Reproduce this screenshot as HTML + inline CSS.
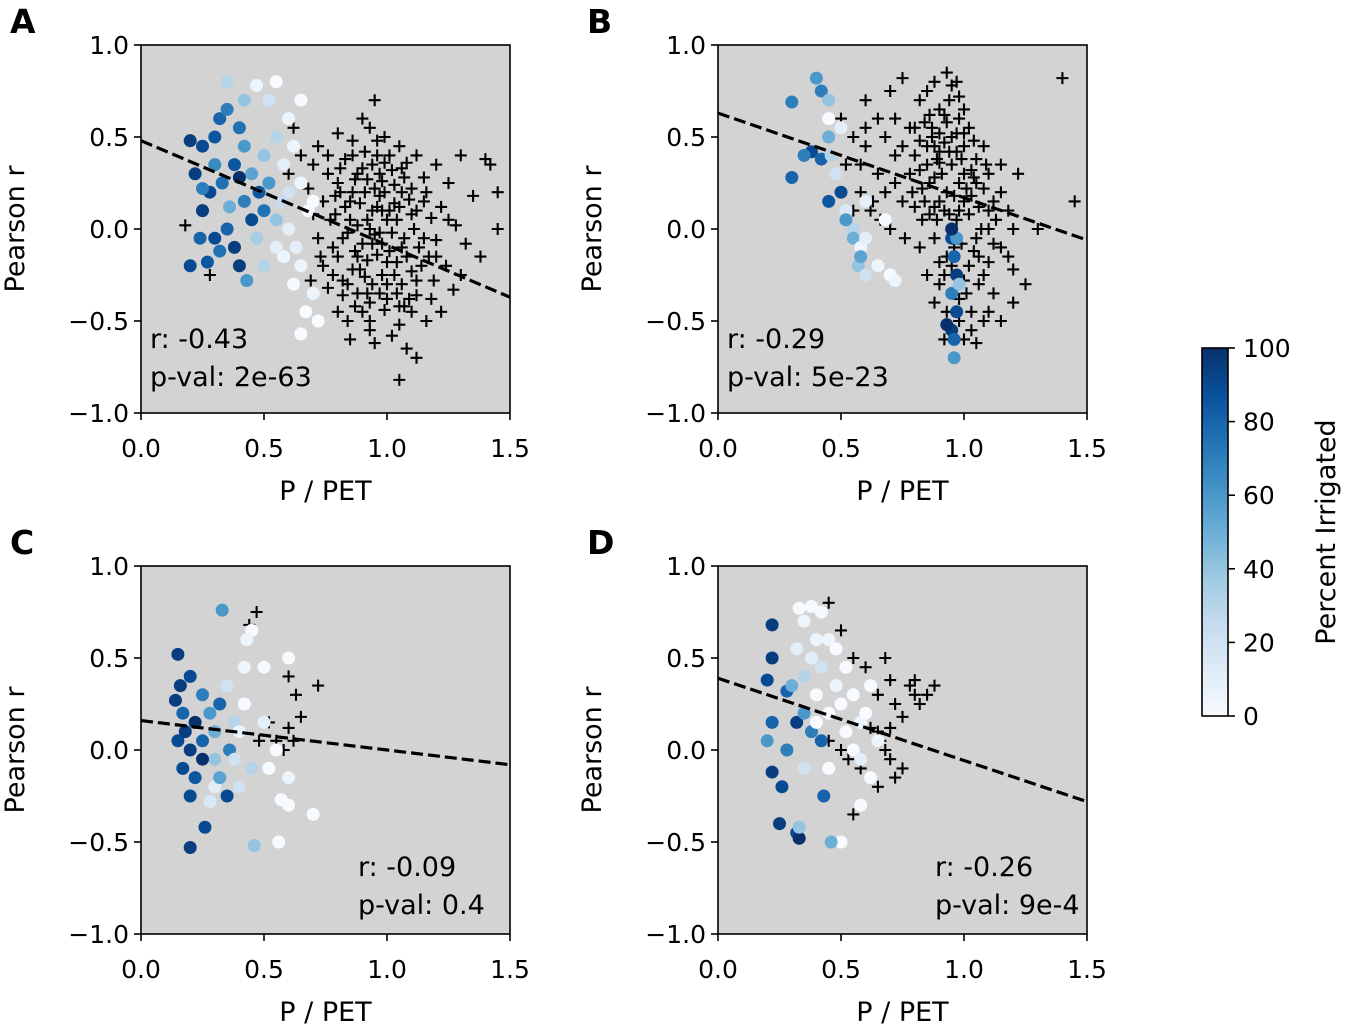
<!DOCTYPE html>
<html><head><meta charset="utf-8">
<style>
body{margin:0;background:#fff;}
svg{display:block;font-family:"DejaVu Sans","Liberation Sans",sans-serif;}
</style></head>
<body>
<svg id="fig" width="1345" height="1027" viewBox="0 0 1345 1027">
<defs>
<linearGradient id="blues" x1="0" y1="1" x2="0" y2="0">
<stop offset="0" stop-color="#f7fbff"/><stop offset="0.125" stop-color="#deebf7"/>
<stop offset="0.25" stop-color="#c6dbef"/><stop offset="0.375" stop-color="#9ecae1"/>
<stop offset="0.5" stop-color="#6baed6"/><stop offset="0.625" stop-color="#4292c6"/>
<stop offset="0.75" stop-color="#2171b5"/><stop offset="0.875" stop-color="#08519c"/>
<stop offset="1" stop-color="#08306b"/></linearGradient>
</defs>
</svg>
<script>
const xTicks=[0,0.5,1.0,1.5];
const xTickLabels=["0.0","0.5","1.0","1.5"];
const yTicks=[-1,-0.5,0,0.5,1];
const yTickLabels=["\u22121.0","\u22120.5","0.0","0.5","1.0"];
const cbTicks=[0,20,40,60,80,100];
const panelLetters=["A","B","C","D"];
const statR=["r: -0.43","r: -0.29","r: -0.09","r: -0.26"];
const statP=["p-val: 2e-63","p-val: 5e-23","p-val: 0.4","p-val: 9e-4"];
const fitIntercept=[0.48,0.63,0.16,0.39];
const fitSlope=[-0.567,-0.46,-0.16,-0.447];

const aCross=[[0.72,0.45],[0.8,0.52],[0.86,0.48],[0.93,0.55],[0.99,0.5],[1.05,0.45],[1.12,0.4],[1.2,0.35],[1.3,0.4],[1.4,0.38],[0.7,0.35],[0.76,0.3],[0.83,0.38],[0.9,0.33],[0.96,0.4],[1.02,0.32],[1.08,0.36],[1.15,0.28],[1.25,0.25],[1.35,0.18],[0.68,0.22],[0.74,0.15],[0.8,0.25],[0.86,0.2],[0.92,0.27],[0.97,0.18],[1.03,0.24],[1.09,0.16],[1.16,0.2],[1.22,0.12],[0.7,0.08],[0.77,0.05],[0.83,0.12],[0.88,0.02],[0.94,0.1],[1.0,0.05],[1.05,0.12],[1.11,0.0],[1.18,0.06],[1.28,0.02],[0.72,-0.05],[0.78,-0.1],[0.84,-0.02],[0.9,-0.08],[0.95,-0.03],[1.01,-0.12],[1.07,-0.05],[1.13,-0.1],[1.2,-0.06],[1.32,-0.08],[0.74,-0.2],[0.8,-0.15],[0.86,-0.22],[0.92,-0.17],[0.98,-0.25],[1.04,-0.18],[1.1,-0.23],[1.17,-0.15],[1.24,-0.2],[1.38,-0.15],[0.76,-0.32],[0.82,-0.28],[0.88,-0.35],[0.94,-0.3],[1.0,-0.38],[1.06,-0.3],[1.12,-0.36],[1.19,-0.28],[1.27,-0.33],[0.8,-0.45],[0.87,-0.42],[0.93,-0.5],[0.99,-0.44],[1.05,-0.52],[1.1,-0.45],[1.16,-0.5],[0.85,-0.6],[0.95,-0.62],[1.02,-0.58],[1.08,-0.65],[1.05,-0.82],[1.12,-0.7],[0.91,0.42],[0.97,0.3],[0.89,0.14],[0.96,-0.14],[1.02,-0.02],[0.91,-0.26],[0.99,0.2],[1.07,0.28],[0.85,0.05],[1.14,-0.2],[0.82,-0.36],[1.0,-0.3],[0.9,0.6],[0.95,0.7],[0.65,0.4],[0.62,0.55],[0.18,0.02],[0.28,-0.25],[1.45,0.0],[1.45,0.2],[1.42,0.35],[1.3,-0.25],[0.6,0.3],[0.93,0.0],[0.98,-0.08],[1.04,0.05],[0.87,-0.12],[0.96,0.12],[1.08,-0.15],[0.93,-0.4],[1.06,0.2],[0.79,0.18],[1.12,0.1],
[0.81,0.33],[0.87,0.27],[0.94,0.35],[1.01,0.4],[1.06,0.33],[0.79,0.08],[0.85,0.15],[0.91,0.2],[0.98,0.26],[1.03,0.14],[1.1,0.08],[0.82,-0.05],[0.88,-0.15],[0.94,-0.08],[1.0,-0.18],[1.06,-0.1],[1.12,-0.28],[0.84,-0.3],[0.9,-0.45],[0.97,-0.35],[1.03,-0.25],[1.09,-0.38],[0.92,0.05],[0.97,-0.02],[1.04,-0.35],[0.86,0.4],[0.99,0.36],[0.78,-0.25],[1.15,0.15],[1.2,-0.15],[0.95,0.22],[0.89,-0.22],[1.01,0.1],[0.93,-0.55],[1.07,-0.42],[0.84,-0.5],[1.18,-0.38],[1.22,-0.45],[0.76,0.4],[0.96,0.48],[1.1,0.22],[0.73,-0.15],[0.69,-0.28],[1.25,0.05],[1.15,-0.05],[0.92,-0.35],[0.98,0.1],[0.88,0.3],[1.05,-0.42],[0.81,0.2]];
const aCirc=[[0.2,0.48,95],[0.25,0.45,90],[0.3,0.5,85],[0.22,0.3,95],[0.28,0.2,90],[0.25,0.1,95],[0.3,-0.05,90],[0.27,-0.18,85],[0.35,0.0,80],[0.38,-0.1,95],[0.32,0.6,80],[0.35,0.65,70],[0.4,0.55,75],[0.42,0.45,60],[0.38,0.35,85],[0.33,0.25,75],[0.45,0.3,55],[0.42,0.15,70],[0.48,0.2,85],[0.45,0.05,90],[0.5,0.1,75],[0.5,0.4,40],[0.55,0.5,30],[0.52,0.25,60],[0.55,0.05,40],[0.6,0.2,20],[0.58,0.35,10],[0.62,0.45,5],[0.52,0.7,20],[0.47,0.78,5],[0.55,0.8,0],[0.35,0.8,30],[0.42,0.7,40],[0.6,0.0,10],[0.58,-0.15,5],[0.62,-0.3,0],[0.65,-0.2,5],[0.67,-0.45,0],[0.65,-0.57,0],[0.7,-0.35,5],[0.68,0.1,0],[0.65,0.25,5],[0.7,0.15,0],[0.55,-0.1,10],[0.5,-0.2,30],[0.43,-0.28,60],[0.4,-0.2,95],[0.2,-0.2,90],[0.24,-0.05,80],[0.3,0.35,65],[0.36,0.12,50],[0.4,0.28,100],[0.25,0.22,70],[0.32,-0.12,75],[0.47,-0.05,35],[0.6,0.6,5],[0.65,0.7,0],[0.72,-0.5,0],[0.63,-0.1,10],[0.57,0.15,25]];
const bCross=[[0.5,0.6],[0.55,0.5],[0.6,0.45],[0.52,0.35],[0.58,0.2],[0.65,0.3],[0.62,0.1],[0.68,0.5],[0.7,0.0],[0.55,0.1],[0.6,0.7],[0.72,0.6],[0.78,0.55],[0.82,0.48],[0.86,0.62],[0.9,0.52],[0.94,0.7],[0.98,0.6],[1.02,0.55],[0.88,0.8],[0.95,0.78],[0.8,0.4],[0.85,0.35],[0.9,0.42],[0.95,0.35],[1.0,0.45],[1.05,0.38],[0.78,0.3],[0.83,0.22],[0.88,0.28],[0.93,0.2],[0.98,0.25],[1.03,0.18],[1.08,0.22],[1.12,0.15],[0.8,0.12],[0.86,0.08],[0.92,0.1],[0.97,0.05],[1.02,0.08],[1.07,0.0],[1.13,0.05],[1.18,0.1],[0.75,0.15],[0.72,0.25],[0.76,-0.05],[0.82,-0.1],[0.88,-0.05],[0.93,-0.15],[0.99,-0.08],[1.04,-0.12],[1.1,-0.18],[1.15,-0.1],[1.2,-0.22],[0.85,-0.25],[0.9,-0.3],[0.95,-0.2],[1.0,-0.28],[1.06,-0.3],[1.12,-0.35],[0.88,-0.4],[0.93,-0.45],[0.98,-0.38],[1.03,-0.45],[1.08,-0.5],[0.95,-0.55],[1.0,-0.6],[1.05,-0.62],[0.92,-0.6],[1.15,-0.5],[1.25,-0.3],[1.22,0.3],[1.2,0.0],[1.45,0.15],[1.4,0.82],[1.3,0.0],[0.7,0.75],[0.75,0.82],[0.82,0.7],[0.98,0.72],[1.0,0.3],[0.9,0.15],[0.85,0.45],[0.95,0.5],[1.1,0.3],[0.97,-0.45],[1.02,-0.2],[0.82,0.32],[0.9,-0.18],[1.15,0.35],[1.08,0.45],[0.92,0.62],[0.87,0.5],[0.97,0.42],[1.04,0.28],[0.9,0.36],[0.84,0.58],
[0.87,0.55],[0.92,0.47],[0.97,0.52],[1.0,0.65],[0.89,0.38],[0.94,0.42],[0.99,0.38],[1.04,0.48],[0.86,0.25],[0.91,0.3],[0.96,0.18],[1.01,0.22],[1.06,0.12],[0.84,0.15],[0.89,0.05],[0.94,0.08],[1.0,0.15],[1.05,-0.05],[1.1,0.1],[0.96,-0.1],[1.01,-0.35],[1.06,-0.15],[0.92,-0.25],[1.08,-0.25],[0.98,-0.5],[1.03,-0.55],[0.9,0.65],[0.85,0.75],[0.93,0.85],[0.97,0.8],[1.1,0.0],[1.15,0.2],[1.12,-0.08],[0.8,0.55],[0.75,0.45],[0.65,0.6],[0.58,0.35],[0.68,0.2],[0.72,0.4],[0.63,0.15],[1.0,0.52],[0.93,0.58],[0.88,0.45],[1.03,0.32],[0.98,0.1],[1.18,-0.15],[1.2,-0.4],[1.1,-0.45],[0.6,0.55],[0.66,0.05],[0.88,0.12],[1.05,0.25],[1.09,0.35],[0.83,0.05],[0.79,0.2]];
const bCirc=[[0.3,0.28,80],[0.3,0.69,70],[0.4,0.82,60],[0.42,0.75,70],[0.45,0.7,40],[0.38,0.42,90],[0.42,0.38,80],[0.45,0.5,50],[0.35,0.4,70],[0.46,0.4,30],[0.48,0.3,20],[0.45,0.15,85],[0.5,0.2,90],[0.52,0.1,15],[0.55,0.0,30],[0.55,-0.05,50],[0.58,-0.1,5],[0.6,0.15,10],[0.6,-0.05,10],[0.57,-0.2,40],[0.6,-0.25,20],[0.58,-0.15,55],[0.65,-0.2,5],[0.7,-0.25,0],[0.72,-0.28,5],[0.68,0.05,0],[0.5,0.55,10],[0.45,0.6,0],[0.52,0.05,60],[0.95,-0.05,90],[0.96,-0.15,80],[0.97,-0.25,95],[0.95,-0.35,70],[0.97,-0.45,90],[0.95,-0.55,95],[0.96,-0.6,80],[0.96,-0.7,60],[0.97,-0.05,60],[0.95,0.0,100],[0.93,-0.52,100],[0.98,-0.3,40]];
const cCross=[[0.47,0.75],[0.44,0.68],[0.6,0.4],[0.63,0.3],[0.65,0.18],[0.6,0.12],[0.55,0.05],[0.58,0.0],[0.72,0.35],[0.52,0.15],[0.48,0.05],[0.62,0.05]];
const cCirc=[[0.15,0.52,95],[0.16,0.35,95],[0.2,0.4,90],[0.14,0.27,95],[0.17,0.2,80],[0.18,0.1,95],[0.15,0.05,90],[0.2,0.0,95],[0.17,-0.1,90],[0.22,-0.15,85],[0.2,-0.25,90],[0.26,-0.42,90],[0.2,-0.53,95],[0.25,0.3,70],[0.28,0.2,60],[0.3,0.1,50],[0.25,0.05,80],[0.3,-0.05,40],[0.32,0.25,80],[0.35,0.35,20],[0.33,0.76,60],[0.38,0.15,30],[0.36,0.0,70],[0.3,-0.2,10],[0.35,-0.25,90],[0.32,-0.15,55],[0.38,-0.05,20],[0.4,0.1,5],[0.42,0.25,0],[0.42,0.45,5],[0.45,0.65,0],[0.43,0.6,5],[0.5,0.45,0],[0.5,0.15,10],[0.55,0.0,0],[0.52,-0.1,0],[0.6,-0.15,5],[0.6,-0.3,0],[0.57,-0.27,0],[0.7,-0.35,0],[0.56,-0.5,0],[0.46,-0.52,40],[0.6,0.5,0],[0.45,-0.1,30],[0.25,-0.05,100],[0.22,0.15,100],[0.28,-0.28,15],[0.4,-0.2,20]];
const dCross=[[0.45,0.8],[0.5,0.65],[0.48,0.55],[0.55,0.5],[0.6,0.45],[0.68,0.5],[0.7,0.38],[0.65,0.3],[0.72,0.25],[0.75,0.18],[0.8,0.3],[0.78,0.35],[0.82,0.25],[0.85,0.3],[0.88,0.35],[0.6,0.2],[0.65,0.1],[0.68,0.0],[0.7,-0.05],[0.72,-0.15],[0.65,-0.2],[0.55,-0.35],[0.62,0.12],[0.66,0.05],[0.7,0.12],[0.28,0.0],[0.5,0.0],[0.45,0.05],[0.58,-0.1],[0.75,-0.1],[0.8,0.38],[0.53,-0.05]];
const dCirc=[[0.22,0.68,95],[0.22,0.5,95],[0.2,0.38,90],[0.22,0.15,80],[0.2,0.05,60],[0.22,-0.12,95],[0.28,0.32,80],[0.26,-0.2,90],[0.25,-0.4,95],[0.32,-0.45,90],[0.33,-0.48,100],[0.32,0.15,95],[0.35,0.4,30],[0.32,0.55,10],[0.35,0.7,5],[0.33,0.77,0],[0.38,0.78,0],[0.42,0.75,0],[0.4,0.6,5],[0.38,0.5,10],[0.42,0.45,20],[0.3,0.35,50],[0.35,0.2,60],[0.4,0.3,0],[0.38,0.1,70],[0.42,0.05,80],[0.45,0.2,0],[0.48,0.35,5],[0.5,0.25,0],[0.52,0.1,0],[0.55,0.3,0],[0.58,0.15,5],[0.55,0.0,0],[0.58,-0.05,10],[0.6,0.2,0],[0.62,-0.15,0],[0.65,0.05,5],[0.58,-0.3,0],[0.5,-0.5,0],[0.46,-0.5,50],[0.43,-0.25,80],[0.33,-0.42,40],[0.48,0.55,0],[0.45,0.6,5],[0.4,0.15,0],[0.28,0.0,70],[0.45,-0.1,0],[0.35,-0.1,20],[0.62,0.35,0],[0.52,0.45,0]];
const crossSets=[aCross,bCross,cCross,dCross];
const circSets=[aCirc,bCirc,cCirc,dCirc];

const NS="http://www.w3.org/2000/svg";
const svg=document.getElementById('fig');
function mk(tag,attrs,parent,txt){const e=document.createElementNS(NS,tag);for(const k in attrs)e.setAttribute(k,attrs[k]);if(txt!==undefined)e.textContent=txt;(parent||svg).appendChild(e);return e;}
const stops=[[0,[247,251,255]],[0.125,[222,235,247]],[0.25,[198,219,239]],[0.375,[158,202,225]],[0.5,[107,174,214]],[0.625,[66,146,198]],[0.75,[33,113,181]],[0.875,[8,81,156]],[1,[8,48,107]]];
function blues(p){const t=Math.max(0,Math.min(1,p/100));for(let i=1;i<stops.length;i++){if(t<=stops[i][0]){const a=stops[i-1],b=stops[i];const f=(t-a[0])/(b[0]-a[0]);const c=a[1].map((v,j)=>Math.round(v+(b[1][j]-v)*f));return `rgb(${c.join(',')})`;}}return 'rgb(8,48,107)';}

const origins=[[141,45],[718,45],[141,566],[718,566]];
const W=369,H=368;
origins.forEach((o,pi)=>{
  const [x0,y0]=o;
  const sx=v=>x0+v/1.5*W;
  const sy=v=>y0+(1-v)/2*H;
  const g=mk('g',{},svg);
  
  
  const bg=mk('rect',{x:x0,y:y0,width:W,height:H,fill:'#d3d3d3'},g);
  
  
  const cl='clip'+pi;
  const cp=mk('clipPath',{id:cl},g);mk('rect',{x:x0,y:y0,width:W,height:H},cp);
  const dg=mk('g',{'clip-path':`url(#${cl})`},g);
  crossSets[pi].forEach(d=>{
    const cx=sx(d[0]),cy=sy(d[1]);
    const p=mk('path',{d:`M${cx-6},${cy}H${cx+6}M${cx},${cy-6}V${cy+6}`,stroke:'#000','stroke-width':2.1},dg);
    
    
  });
  circSets[pi].forEach(d=>{
    const c=mk('circle',{cx:sx(d[0]),cy:sy(d[1]),r:6.5,fill:blues(d[2])},dg);
    
    
  });
  const fl=mk('line',{x1:sx(0),y1:sy(fitIntercept[pi]),x2:sx(1.5),y2:sy(fitIntercept[pi]+fitSlope[pi]*1.5),stroke:'#000','stroke-width':3.2,'stroke-dasharray':'12,5'},dg);
  
  
  const fr=mk('rect',{x:x0,y:y0,width:W,height:H,fill:'none',stroke:'#000','stroke-width':1.6},g);
  
  
  xTicks.forEach((v,i)=>{
    mk('line',{x1:sx(v),y1:y0+H,x2:sx(v),y2:y0+H+7,stroke:'#000','stroke-width':1.6},g);
    const t=mk('text',{x:sx(v),y:y0+H+44,'font-size':25,'text-anchor':'middle'},g,xTickLabels[i]);
    
    
  });
  yTicks.forEach((v,i)=>{
    mk('line',{x1:x0-7,y1:sy(v),x2:x0,y2:sy(v),stroke:'#000','stroke-width':1.6},g);
    const t=mk('text',{x:x0-12,y:sy(v)+9,'font-size':25,'text-anchor':'end'},g,yTickLabels[i]);
    
    
  });
  const xl=mk('text',{x:x0+W/2,y:y0+H+87,'font-size':27,'text-anchor':'middle'},g,'P / PET');
  
  
  const yl=mk('text',{x:0,y:0,'font-size':27,'text-anchor':'middle',transform:`translate(${x0-117},${y0+H/2}) rotate(-90)`},g,'Pearson r');
  
  
  const pl=mk('text',{x:x0-131,y:y0-12,'font-size':33,'font-weight':'bold'},g,panelLetters[pi]);
  
  
  const top=pi<2;
  const tx=top?x0+9:x0+217;
  const dy=top?0:7;
  const r1=mk('text',{x:tx,y:y0+303+dy,'font-size':27},g,statR[pi]);
  
  
  const r2=mk('text',{x:tx,y:y0+341+dy,'font-size':27},g,statP[pi]);
  
  
});

const cbX=1202,cbY=348,cbW=26,cbH=368;
const cb=mk('g',{},svg);


mk('rect',{x:cbX,y:cbY,width:cbW,height:cbH,fill:'url(#blues)',stroke:'#000','stroke-width':1.6},cb);
cbTicks.forEach(v=>{
  const y=cbY+cbH-v/100*cbH;
  mk('line',{x1:cbX+cbW,y1:y,x2:cbX+cbW+7,y2:y,stroke:'#000','stroke-width':1.6},cb);
  const t=mk('text',{x:cbX+cbW+15,y:y+9,'font-size':25},cb,String(v));
  
  
});
const cbl=mk('text',{x:0,y:0,'font-size':27,'text-anchor':'middle',transform:`translate(1335,${cbY+cbH/2}) rotate(-90)`},cb,'Percent Irrigated');


</script>
</body></html>
